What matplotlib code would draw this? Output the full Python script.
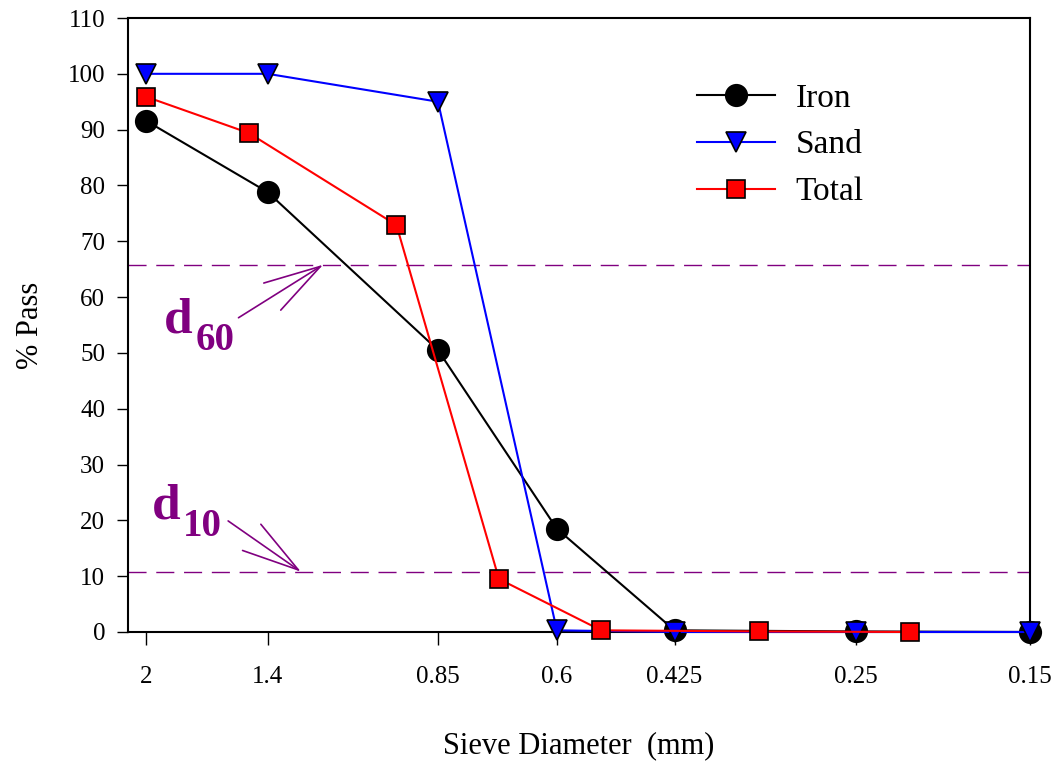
import matplotlib
matplotlib.use('Agg')
import matplotlib.pyplot as plt
from matplotlib.ticker import FixedLocator, NullLocator, FixedFormatter

plt.rcParams['font.family'] = ['Liberation Serif', 'DejaVu Serif']

# sieve sizes (mm) and % passing
sieve = [2, 1.4, 0.85, 0.6, 0.425, 0.25, 0.15]
iron = [91.6, 78.8, 50.5, 18.5, 0.3, 0.1, 0.0]
sand = [100, 100, 95.0, 0.3, 0.0, 0.0, 0.0]

total_d = [2, 1.48, 0.96, 0.711, 0.527, 0.332, 0.213]
total = [95.9, 89.4, 72.9, 9.5, 0.3, 0.1, 0.0]

d60_level = 65.8
d10_level = 10.8

tick_vals = [2, 1.4, 0.85, 0.6, 0.425, 0.25, 0.15]
tick_labels = ['2', '1.4', '0.85', '0.6', '0.425', '0.25', '0.15']

purple = '#800080'

fig = plt.figure(figsize=(10.62, 7.62), dpi=100)
ax = fig.add_axes([128 / 1062, 1 - 632 / 762, 902 / 1062, 614 / 762])

ax.axhline(d60_level, color=purple, lw=1.0, ls=(0, (13, 7)), zorder=1)
ax.axhline(d10_level, color=purple, lw=1.0, ls=(0, (13, 7)), zorder=1)

ax.plot(sieve, iron, color='black', lw=1.5, marker='o', ms=15.5,
        mfc='black', mec='black', mew=1.2, label='Iron', clip_on=False, zorder=3)
ax.plot(sieve, sand, color='blue', lw=1.5, marker='v', ms=15,
        mfc='blue', mec='black', mew=1.2, label='Sand', clip_on=False, zorder=4)
ax.plot(total_d, total, color='red', lw=1.5, marker='s', ms=13,
        mfc='red', mec='black', mew=1.2, label='Total', clip_on=False, zorder=5)

ax.set_xscale('log')
ax.set_xlim(2.108, 0.15)
ax.set_ylim(0, 110)
ax.xaxis.set_major_locator(FixedLocator(tick_vals))
ax.xaxis.set_major_formatter(FixedFormatter(tick_labels))
ax.xaxis.set_minor_locator(NullLocator())
ax.set_yticks(range(0, 111, 10))

ax.tick_params(axis='x', direction='out', length=9.5, width=1, labelsize=18, pad=15)
ax.tick_params(axis='y', direction='out', length=8, width=1, labelsize=18, pad=8.5)
for s in ax.spines.values():
    s.set_linewidth(1.5)

ax.set_xlabel('Sieve Diameter  (mm)', fontsize=22, labelpad=31)
ax.set_ylabel('% Pass', fontsize=22, labelpad=16)

# d60 / d10 labels with arrows
arrow_kw = dict(arrowstyle='->, head_length=4.1, head_width=1.15', color=purple,
                lw=1.2, shrinkA=0, shrinkB=0, mutation_scale=10)
ax.annotate('', xy=(1.19, d60_level), xytext=(1.525, 56.3), arrowprops=arrow_kw)
ax.annotate('', xy=(1.27, d10_level), xytext=(1.572, 19.9), arrowprops=arrow_kw)

lab_kw = dict(color=purple, fontweight='bold', ha='left', va='baseline')
ax.text(1.90, 53.7, 'd', fontsize=37, **lab_kw)
ax.text(1.727, 50.5, '60', fontsize=28, **lab_kw)
ax.text(1.965, 20.4, 'd', fontsize=37, **lab_kw)
ax.text(1.795, 17.2, '10', fontsize=28, **lab_kw)

ax.legend(loc='upper left', bbox_to_anchor=(0.631, 0.894), frameon=False,
          fontsize=24, handlelength=2.35, handletextpad=0.6, labelspacing=0.49,
          borderpad=0, borderaxespad=0, numpoints=1)

fig.savefig('out.png', dpi=100)
